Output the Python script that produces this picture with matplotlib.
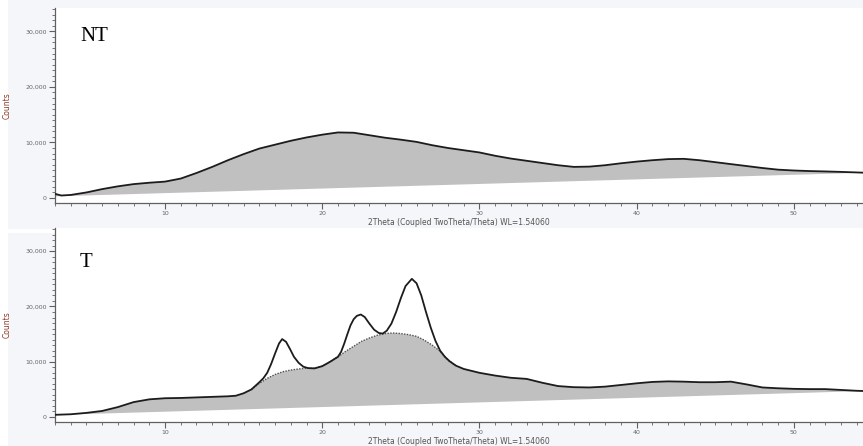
import matplotlib
matplotlib.use("Agg")
import matplotlib.pyplot as plt
from matplotlib.patches import Rectangle
from matplotlib.ticker import MultipleLocator, FuncFormatter
import numpy as np

# ---- data ----
nt_x = [3.0, 3.4, 4, 5, 6, 7, 8, 9, 10, 11, 12, 13, 14, 15, 16, 17, 18, 19, 20,
        21, 22, 23, 24, 25, 26, 27, 28, 29, 30, 31, 32, 33, 34, 35, 36, 37, 38,
        39, 40, 41, 42, 43, 44, 45, 46, 47, 48, 49, 50, 51, 52, 53, 54, 54.5]
nt_y = [750, 450, 550, 1000, 1600, 2100, 2500, 2750, 2950, 3500, 4500, 5600,
        6800, 7900, 8900, 9600, 10300, 10900, 11400, 11800, 11750, 11300, 10850,
        10500, 10100, 9500, 9000, 8600, 8200, 7600, 7100, 6700, 6300, 5900, 5600,
        5650, 5900, 6250, 6550, 6800, 7000, 7050, 6800, 6450, 6100, 5750, 5400,
        5100, 4950, 4850, 4780, 4700, 4600, 4550]
nt_base_x = [3.0, 54.5]
nt_base_y = [300, 4550]

t_x = [3.0, 4, 5, 6, 7, 8, 9, 10, 11, 12, 13, 14, 14.5, 15, 15.5, 16, 16.25,
       16.5, 16.75, 17.0, 17.25, 17.45, 17.7, 17.95, 18.2, 18.5, 18.8, 19.1,
       19.5, 20, 20.5, 21.0, 21.2, 21.4, 21.6, 21.8, 22.0, 22.2, 22.45, 22.7,
       23.0, 23.3, 23.6, 23.85, 24.1, 24.4, 24.7, 25.0, 25.3, 25.7, 26.0, 26.3,
       26.6, 26.9, 27.2, 27.5, 27.8, 28.1, 28.5, 29, 30, 31, 32, 33, 34, 35, 36,
       37, 38, 39, 40, 41, 42, 43, 44, 45, 46, 47, 48, 49, 50, 51, 52, 53, 54,
       54.5]
t_y = [400, 500, 750, 1100, 1800, 2700, 3200, 3400, 3450, 3550, 3650, 3750,
       3850, 4300, 5000, 6300, 7000, 8000, 9600, 11500, 13300, 14100, 13600,
       12300, 10900, 9800, 9100, 8850, 8800, 9200, 10000, 10900, 11800, 13300,
       15000, 16600, 17700, 18300, 18550, 18100, 16900, 15800, 15200, 15100,
       15600, 16900, 19000, 21500, 23700, 25000, 24200, 22000, 19000, 16200,
       13800, 12000, 10900, 10100, 9300, 8700, 8000, 7500, 7100, 6900, 6200,
       5600, 5400, 5350, 5500, 5800, 6100, 6350, 6450, 6400, 6300, 6300, 6400,
       5900, 5350, 5200, 5100, 5050, 5050, 4900, 4750, 4700]
t_amorph_x = [15.5, 16, 16.5, 17, 17.5, 18, 18.5, 19, 19.5, 20, 20.5, 21, 21.5,
              22, 22.5, 23, 23.5, 24, 24.5, 25, 25.5, 26, 26.5, 27, 27.5, 28, 28.5]
t_amorph_y = [5000, 6100, 7000, 7700, 8200, 8500, 8700, 8850, 8800, 9200, 10000,
              10900, 11900, 12800, 13700, 14300, 14800, 15100, 15200, 15100,
              14900, 14600, 13900, 13000, 11900, 10300, 9300]
t_base_x = [3.0, 54.5]
t_base_y = [380, 4700]

labels = ["NT", "T"]
xlabel = "2Theta (Coupled TwoTheta/Theta) WL=1.54060"
ylabel = "Counts"

# ---- figure ----
W, H = 863, 446
fig = plt.figure(figsize=(W / 100, H / 100), dpi=100)
fig.patch.set_facecolor("white")
panel_bg = "#f4f6f9"
fig.patches.append(Rectangle((8 / W, 1 - 229 / H), 1, 229 / H, transform=fig.transFigure,
                             facecolor=panel_bg, edgecolor="none", zorder=-10))
fig.patches.append(Rectangle((8 / W, 0), 1, 1 - 233 / H, transform=fig.transFigure,
                             facecolor=panel_bg, edgecolor="none", zorder=-10))

left = 55 / W
width = 1 - left
ax_top = fig.add_axes([left, 1 - 203 / H, width, 195 / H])
ax_bot = fig.add_axes([left, 1 - 422 / H, width, 194 / H])

fill_color = "#c0c0c0"
line_color = "#1c1c1c"


def style(ax):
    ax.set_facecolor("white")
    ax.set_xlim(3.0, 54.4)
    ax.set_ylim(-900, 34200)
    for s in ["top", "right"]:
        ax.spines[s].set_visible(False)
    for s in ["left", "bottom"]:
        ax.spines[s].set_color("#606060")
        ax.spines[s].set_linewidth(0.9)
    ax.xaxis.set_major_locator(MultipleLocator(10))
    ax.xaxis.set_minor_locator(MultipleLocator(1))
    ax.yaxis.set_major_locator(MultipleLocator(10000))
    ax.yaxis.set_minor_locator(MultipleLocator(1000))
    ax.yaxis.set_major_formatter(FuncFormatter(lambda v, p: f"{int(v):,}"))
    ax.tick_params(axis="both", which="major", length=4, width=0.8, color="#606060",
                   labelsize=4.5, labelcolor="#666666", pad=2)
    ax.tick_params(axis="both", which="minor", length=2, width=0.6, color="#606060")
    ax.set_xlabel(xlabel, fontsize=5.5, color="#555555", labelpad=1)
    ax.set_ylabel(ylabel, fontsize=5.5, color="#8b3a2a")
    ax.yaxis.set_label_coords(-43 / 808, 0.5)


# top panel
style(ax_top)
px = np.concatenate([nt_x, nt_base_x[::-1]])
py = np.concatenate([nt_y, nt_base_y[::-1]])
ax_top.fill(px, py, color=fill_color, lw=0, zorder=1)
ax_top.plot(nt_x, nt_y, color=line_color, lw=1.3, zorder=3)
ax_top.text(0.031, 0.83, labels[0], transform=ax_top.transAxes, fontsize=15,
            family="Liberation Serif", color="black", va="baseline")

# bottom panel
style(ax_bot)
tx = np.array(t_x)
ty = np.array(t_y)
pre = tx < t_amorph_x[0]
post = tx > t_amorph_x[-1]
upper_x = np.concatenate([tx[pre], t_amorph_x, tx[post]])
upper_y = np.concatenate([ty[pre], t_amorph_y, ty[post]])
px = np.concatenate([upper_x, t_base_x[::-1]])
py = np.concatenate([upper_y, t_base_y[::-1]])
ax_bot.fill(px, py, color=fill_color, lw=0, zorder=1)
ax_bot.plot(t_amorph_x, t_amorph_y, color="#505050", lw=1.0, ls=(0, (1, 1)), zorder=2)
ax_bot.plot(t_x, t_y, color=line_color, lw=1.3, zorder=3)
ax_bot.text(0.031, 0.80, labels[1], transform=ax_bot.transAxes, fontsize=15,
            family="Liberation Serif", color="black", va="baseline")

fig.savefig("out.png", dpi=100, facecolor=fig.get_facecolor())
